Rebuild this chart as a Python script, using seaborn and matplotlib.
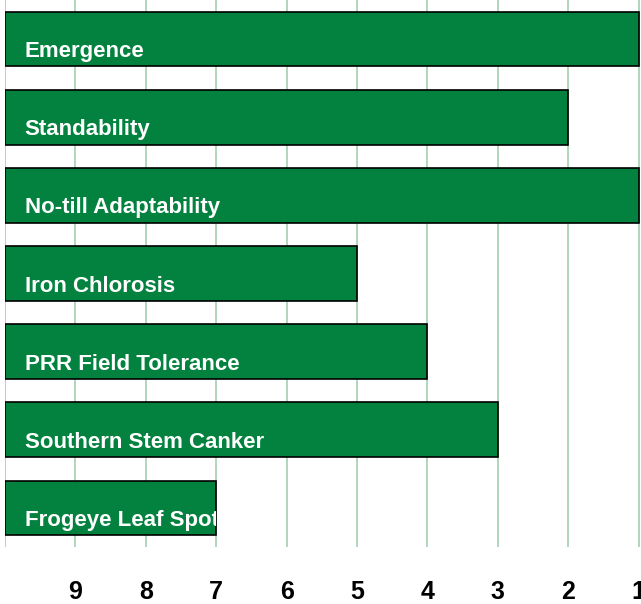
import matplotlib
matplotlib.use("Agg")
import matplotlib.pyplot as plt
import seaborn as sns
import pandas as pd
from matplotlib.ticker import FuncFormatter

traits = ["Emergence", "Standability", "No-till Adaptability", "Iron Chlorosis",
          "PRR Field Tolerance", "Southern Stem Canker", "Frogeye Leaf Spot"]
scores = [1, 2, 1, 5, 4, 3, 7]  # 1 = best, 9 = worst

df = pd.DataFrame({"trait": traits, "score": scores})
# bars grow from the left edge (score 10) towards 1
df["length"] = 10 - df["score"]

sns.set_style("white")
plt.rcParams["font.family"] = ["Liberation Sans", "DejaVu Sans"]

fig = plt.figure(figsize=(6.41, 6.04), dpi=100)
ax = fig.add_axes([5 / 641, 1 - 547 / 604, 635 / 641, 547 / 604])

sns.barplot(data=df, x="length", y="trait", orient="h", color="#02823e",
            saturation=1, width=0.7, edgecolor="black", linewidth=1.2, ax=ax, zorder=2)

# white labels sit inside the bars and get cut at the bar end
for i, (name, bar) in enumerate(zip(traits, ax.patches)):
    t = ax.text(0.28, i + 0.16, name, color="white", fontsize=16, fontweight="bold",
                va="center", ha="left", zorder=3, clip_on=True)
    t.set_clip_path(bar)

ax.set_xlim(0, 9.02)
ax.set_ylim(6.5, -0.5)
ax.set_xticks(range(0, 10))
ax.xaxis.set_major_formatter(FuncFormatter(lambda v, p: "" if v == 0 else f"{10 - int(v)}"))
ax.grid(axis="x", color="#a9d4b6", linewidth=1.3, zorder=0)
ax.set_axisbelow(True)
ax.tick_params(axis="x", length=0, pad=24, labelsize=18, labelcolor="black")
for lab in ax.get_xticklabels():
    lab.set_fontweight("bold")
ax.set_yticks([])
ax.set_xlabel("")
ax.set_ylabel("")
for s in ax.spines.values():
    s.set_visible(False)

fig.savefig("out.png", dpi=100)
